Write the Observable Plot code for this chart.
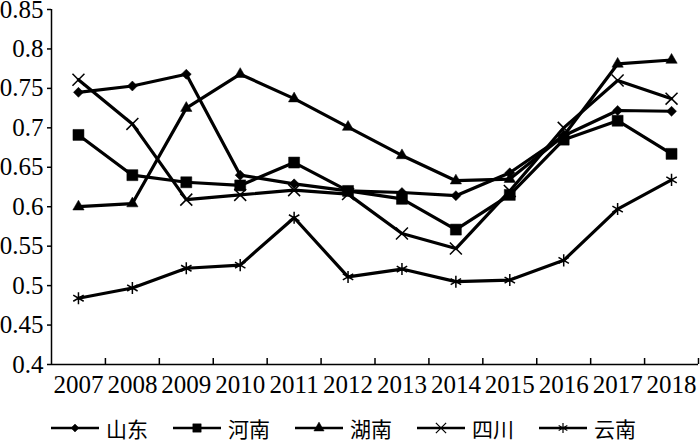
<!DOCTYPE html>
<html>
<head>
<meta charset="utf-8">
<script src="https://cdn.jsdelivr.net/npm/d3@7"></script>
<script src="https://cdn.jsdelivr.net/npm/@observablehq/plot@0.6"></script>
<style>
  body { margin: 0; background: #fff; position: relative; width: 700px; height: 443px; overflow: hidden; }
  #legend { position: absolute; left: 0; top: 415px; display: flex; gap: 24px; padding-left: 50px; height: 26px; align-items: center;
            font-family: "Noto Sans CJK SC", sans-serif; font-size: 21px; line-height: 26px; color: #000; }
  .item { display: flex; align-items: center; gap: 6px; }
  .item svg { display: block; }
</style>
</head>
<body>
<div id="chart"></div>
<div id="legend"></div>
<script>
const years = [2007, 2008, 2009, 2010, 2011, 2012, 2013, 2014, 2015, 2016, 2017, 2018];
const seriesNames = ["山东", "河南", "湖南", "四川", "云南"];
const shandong = [0.745, 0.753, 0.768, 0.640, 0.629, 0.620, 0.618, 0.614, 0.643, 0.690, 0.722, 0.721];
const henan    = [0.691, 0.640, 0.631, 0.627, 0.656, 0.620, 0.610, 0.571, 0.615, 0.685, 0.709, 0.667];
const hunan    = [0.600, 0.604, 0.725, 0.768, 0.737, 0.701, 0.665, 0.633, 0.635, 0.690, 0.781, 0.786];
const sichuan  = [0.761, 0.705, 0.609, 0.615, 0.621, 0.616, 0.566, 0.547, 0.620, 0.700, 0.760, 0.737];
const yunnan   = [0.484, 0.497, 0.522, 0.526, 0.586, 0.511, 0.521, 0.505, 0.507, 0.532, 0.597, 0.634];
const yTicks = [0.4, 0.45, 0.5, 0.55, 0.6, 0.65, 0.7, 0.75, 0.8, 0.85];

const seriesValues = [shandong, henan, hunan, sichuan, yunnan];
const symbolNames = ["diamond2", "square", "triangle", "times", "asterisk"];
const symbolR = [4.5, 6.2, 4.2, 5.5, 5.7];
const filled = [true, true, true, false, false];

const rows = seriesNames.flatMap((name, s) =>
  years.map((year, i) => ({name, year, value: seriesValues[s][i]})));
const xDomain = [years[0] - 0.5, years[years.length - 1] + 0.5];
const boundaries = years.map(y => y + 0.5);

const marks = [
  Plot.axisY(yTicks, {tickSize: 4, tickPadding: 4, tickFormat: d => String(d), strokeWidth: 1.5}),
  Plot.axisX(years, {tickSize: 0, tickPadding: 11, tickFormat: d => String(d)}),
  Plot.axisX(boundaries, {tickSize: -6, tickFormat: () => "", strokeWidth: 1.5}),
  Plot.ruleY([yTicks[0]], {stroke: "black", strokeWidth: 1.5}),
  Plot.ruleX([xDomain[0]], {stroke: "black", strokeWidth: 1.5})
];
seriesNames.forEach((name, s) => {
  const data = rows.filter(d => d.name === name);
  marks.push(Plot.line(data, {x: "year", y: "value", stroke: "black", strokeWidth: 3.2}));
  marks.push(Plot.dot(data, {
    x: "year", y: "value", symbol: symbolNames[s], r: symbolR[s],
    fill: filled[s] ? "black" : "none", stroke: "black", strokeWidth: filled[s] ? 0.5 : 1.5
  }));
});

const chart = Plot.plot({
  width: 700,
  height: 414,
  marginLeft: 51,
  marginRight: 2,
  marginTop: 9,
  marginBottom: 50,
  style: {fontFamily: "'Liberation Serif', serif", fontSize: "25px", color: "#000", overflow: "visible", background: "#fff"},
  x: {type: "linear", domain: xDomain, label: null},
  y: {domain: [yTicks[0], yTicks[yTicks.length - 1]], label: null},
  marks
});
document.getElementById("chart").appendChild(chart);

// legend
const symbolTypes = {diamond2: d3.symbolDiamond2, square: d3.symbolSquare, triangle: d3.symbolTriangle,
                     times: d3.symbolTimes, asterisk: d3.symbolAsterisk};
const legendSizes = [40, 70, 45, 70, 70];
const legend = d3.select("#legend");
seriesNames.forEach((name, s) => {
  const item = legend.append("div").attr("class", "item");
  const svg = item.append("svg").attr("width", 50).attr("height", 16);
  svg.append("line").attr("x1", 1).attr("x2", 49).attr("y1", 8).attr("y2", 8)
     .attr("stroke", "black").attr("stroke-width", 2.5);
  svg.append("path").attr("transform", "translate(25,8)")
     .attr("d", d3.symbol(symbolTypes[symbolNames[s]], legendSizes[s])())
     .attr("fill", filled[s] ? "black" : "none").attr("stroke", "black")
     .attr("stroke-width", filled[s] ? 0.5 : 1.2);
  item.append("span").text(name);
});
</script>
</body>
</html>
